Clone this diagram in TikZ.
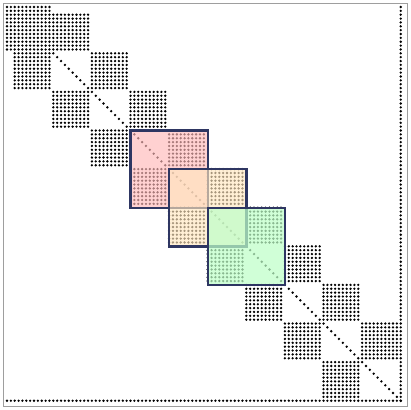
\documentclass[tikz,border=0pt]{standalone}
\usepackage{tikz}
\usetikzlibrary{positioning}
\definecolor{framegray}{gray}{0.62}
\definecolor{boxline}{RGB}{46,54,98}
\definecolor{boxred}{RGB}{255,185,185}
\definecolor{boxorange}{RGB}{255,230,190}
\definecolor{boxgreen}{RGB}{190,255,200}
% one dense block of nonzeros: rows #1..#2, columns #3..#4
\newcommand{\denseblock}[4]{%
  \foreach \ii in {#1,...,#2}
    \foreach \jj in {#3,...,#4}
      \fill[nzdot] (\jj,\ii) circle (1.3pt);}
\begin{document}
\begin{tikzpicture}[x=1pt, y=-1pt,
    nzdot/.style={fill=black},
    frameline/.style={draw=framegray, line width=0.8pt},
    blockbox/.style={draw=boxline, line width=2.4pt, fill opacity=0.65}]
  \useasboundingbox (0,0) rectangle (411,409);
  \draw[frameline] (3,3) rectangle (407,406);
  \begin{scope}[shift={(7,7)}, x=3.86pt, y=-3.86pt]
    % first dense corner and its neighbours
    \denseblock{0}{11}{0}{11}
    \denseblock{2}{11}{12}{21}
    \denseblock{12}{21}{2}{11}
    % off-diagonal blocks
    \foreach \s in {12,22,...,82} {
      \pgfmathtruncatemacro\se{\s+9}
      \pgfmathtruncatemacro\t{\s+10}
      \pgfmathtruncatemacro\te{\s+19}
      \denseblock{\s}{\se}{\t}{\te}
      \denseblock{\t}{\te}{\s}{\se}
    }
    % diagonal
    \foreach \ii in {12,...,101}
      \fill[nzdot] (\ii,\ii) circle (1.3pt);
    % last row and last column
    \foreach \ii in {0,...,102} {
      \fill[nzdot] (\ii,102) circle (1.3pt);
      \fill[nzdot] (102,\ii) circle (1.3pt);
    }
    % highlighted blocks
    \draw[blockbox, fill=boxred] (32,32) rectangle (52,52);
    \draw[blockbox, fill=boxorange] (42,42) rectangle (62,62);
    \draw[blockbox, fill=boxgreen, fill opacity=0.72] (52,52) rectangle (72,72);
  \end{scope}
\end{tikzpicture}
\end{document}
